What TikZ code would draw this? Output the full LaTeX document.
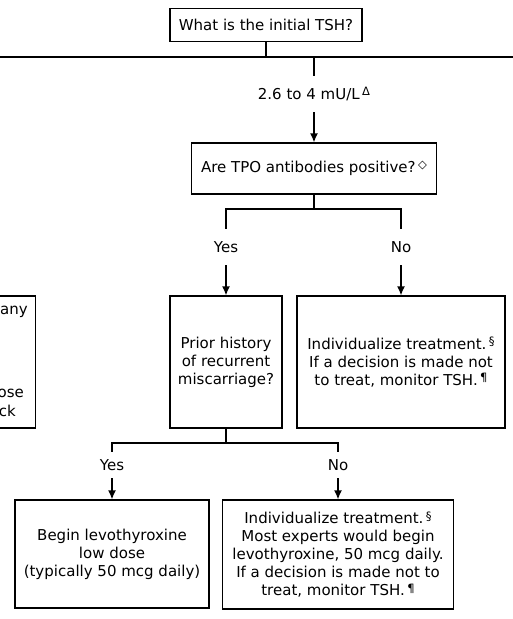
\documentclass[tikz,border=0pt]{standalone}
\usepackage{fontspec}
\setmainfont{DejaVu Sans}
\usetikzlibrary{arrows.meta}
\newcommand{\sym}[1]{\,\raisebox{0.45ex}{\fontsize{11.5}{11.5}\selectfont #1}}
\begin{document}
\begin{tikzpicture}[x=1pt,y=-1pt,
		txt/.style={font=\fontsize{15}{18}\selectfont},
		box/.style={txt,draw,line width=1.3pt,align=center,inner sep=0pt},
		lbl/.style={txt,inner sep=0pt,minimum height=36pt},
		conn/.style={line width=1.3pt},
		arr/.style={conn,-{Latex[length=9pt,width=8pt]}}]
		\clip (0,0) rectangle (513,619);
		% top question
		\node[box,minimum width=192pt,minimum height=33pt] (tsh) at (266,25) {What is the initial TSH?};
		\coordinate (split) at (266,57);
		\coordinate (west) at (-5,57);
		\coordinate (east) at (520,57);
		\coordinate (mid) at (314,57);
		\draw[conn] (tsh) -- (split);
		\draw[conn] (west) -- (east);
		\node[lbl] (range) at (314,94) {2.6 to 4 mU/L\sym{Δ}};
		\draw[conn] (mid) -- (range);
		\node[box,minimum width=245pt,minimum height=51pt] (tpo) at (314,168.5) {Are TPO antibodies positive?\sym{◇}};
		\draw[arr] (range) -- (tpo);
		% antibodies yes / no
		\coordinate (fork1) at (314,209);
		\draw[conn] (tpo) -- (fork1);
		\node[lbl] (yes1) at (226,247) {Yes};
		\node[lbl] (no1) at (401,247) {No};
		\draw[conn] (yes1.north) |- (fork1) -| (no1.north);
		\node[box,minimum width=150pt,minimum height=132pt,anchor=east] (left) at (36,362) {};
		\node[txt,anchor=east,inner sep=0pt] (any) at (28,312) {any};
		\node[txt,anchor=east,inner sep=0pt] (ose) at (24,393) {ose};
		\node[txt,anchor=east,inner sep=0pt] (ck) at (16,411) {ck};
		\node[box,minimum width=112pt,minimum height=132pt] (prior) at (226,362) {Prior history\\of recurrent\\miscarriage?};
		\node[box,minimum width=208pt,minimum height=132pt] (indiv1) at (401,362) {Individualize treatment.\sym{§}\\If a decision is made not\\to treat, monitor TSH.\sym{¶}};
		\draw[arr] (yes1) -- (prior);
		\draw[arr] (no1) -- (indiv1);
		% miscarriage yes / no
		\coordinate (fork2) at (226,443);
		\draw[conn] (prior) -- (fork2);
		\node[lbl,minimum height=26pt] (yes2) at (112,465) {Yes};
		\node[lbl,minimum height=26pt] (no2) at (338,465) {No};
		\draw[conn] (yes2.north) |- (fork2) -| (no2.north);
		\node[box,minimum width=194pt,minimum height=108pt] (begin) at (112,554) {Begin levothyroxine\\low dose\\(typically 50 mcg daily)};
		\node[box,minimum width=231pt,minimum height=109pt] (indiv2) at (338,554.5) {Individualize treatment.\sym{§}\\Most experts would begin\\levothyroxine, 50 mcg daily.\\If a decision is made not to\\treat, monitor TSH.\sym{¶}};
		\draw[arr] (yes2) -- (begin);
		\draw[arr] (no2) -- (indiv2);
	\end{tikzpicture}
\end{document}
